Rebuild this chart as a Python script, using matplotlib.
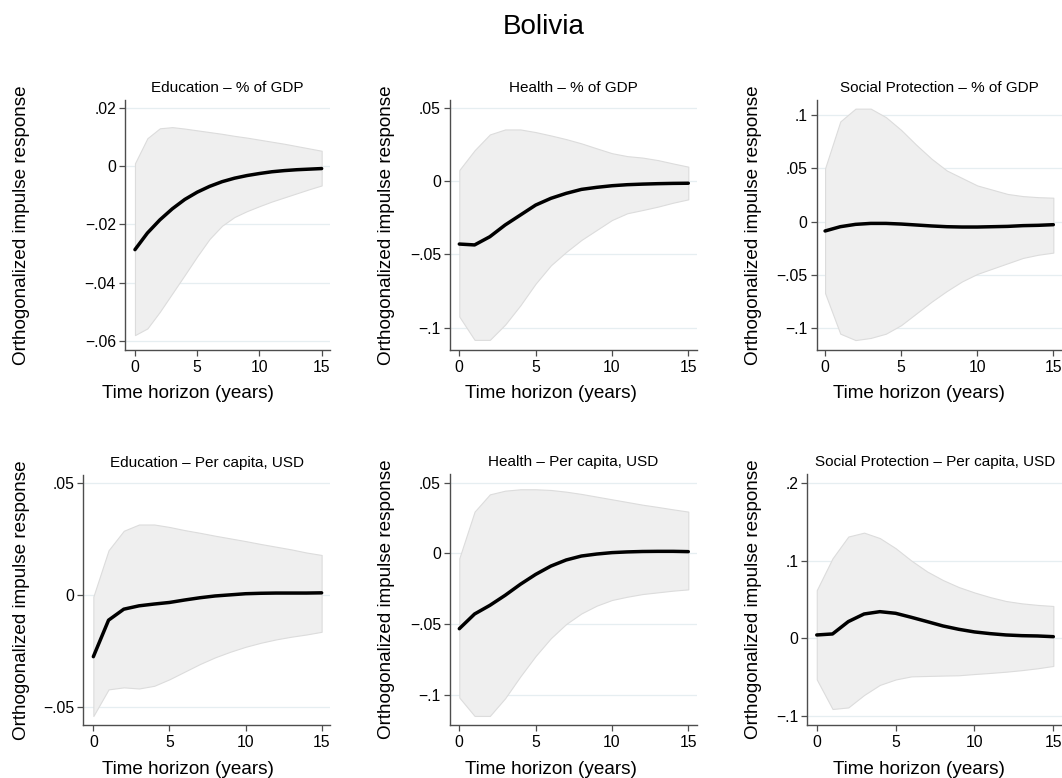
import matplotlib
matplotlib.use("Agg")
import matplotlib.pyplot as plt
import numpy as np

plt.rcParams['font.family'] = ['Liberation Sans', 'DejaVu Sans']

horizon = list(range(16))

titles = ["Education \u2013 % of GDP", "Health \u2013 % of GDP", "Social Protection \u2013 % of GDP",
          "Education \u2013 Per capita, USD", "Health \u2013 Per capita, USD",
          "Social Protection \u2013 Per capita, USD"]

# Panel 1: Education - % of GDP
edu_gdp_irf = [-0.0287, -0.0230, -0.0185, -0.0147, -0.0115, -0.0090, -0.0070, -0.0054,
               -0.0042, -0.0033, -0.0026, -0.0020, -0.0016, -0.0013, -0.0011, -0.0009]
edu_gdp_hi = [0.0009, 0.0095, 0.0129, 0.0133, 0.0128, 0.0122, 0.0116, 0.0110,
              0.0103, 0.0097, 0.0090, 0.0083, 0.0076, 0.0068, 0.0060, 0.0052]
edu_gdp_lo = [-0.0580, -0.0557, -0.0500, -0.0437, -0.0374, -0.0310, -0.0250, -0.0205,
              -0.0175, -0.0155, -0.0138, -0.0122, -0.0108, -0.0094, -0.0080, -0.0067]

# Panel 2: Health - % of GDP
hea_gdp_irf = [-0.0430, -0.0436, -0.0380, -0.0300, -0.0232, -0.0164, -0.0118, -0.0084,
               -0.0057, -0.0043, -0.0032, -0.0025, -0.0021, -0.0018, -0.0016, -0.0015]
hea_gdp_hi = [0.0075, 0.0210, 0.0318, 0.0352, 0.0352, 0.0334, 0.0311, 0.0286,
              0.0257, 0.0223, 0.0190, 0.0170, 0.0160, 0.0143, 0.0120, 0.0098]
hea_gdp_lo = [-0.0925, -0.1084, -0.1084, -0.0980, -0.0848, -0.0700, -0.0575, -0.0484,
              -0.0402, -0.0334, -0.0266, -0.0220, -0.0198, -0.0175, -0.0148, -0.0125]

# Panel 3: Social Protection - % of GDP
sp_gdp_irf = [-0.0087, -0.0047, -0.0025, -0.0016, -0.0016, -0.0022, -0.0031, -0.0040,
              -0.0047, -0.0050, -0.0050, -0.0047, -0.0044, -0.0037, -0.0034, -0.0028]
sp_gdp_hi = [0.050, 0.094, 0.106, 0.106, 0.098, 0.086, 0.072, 0.059,
             0.048, 0.041, 0.034, 0.030, 0.026, 0.024, 0.023, 0.0225]
sp_gdp_lo = [-0.067, -0.105, -0.111, -0.109, -0.105, -0.097, -0.086, -0.075,
             -0.065, -0.056, -0.049, -0.044, -0.039, -0.034, -0.031, -0.029]

# Panel 4: Education - Per capita, USD
edu_pc_irf = [-0.0275, -0.0112, -0.0063, -0.0048, -0.0040, -0.0033, -0.0022, -0.0012,
              -0.0004, 0.0001, 0.0006, 0.0008, 0.0009, 0.0009, 0.0009, 0.0010]
edu_pc_hi = [-0.0007, 0.0200, 0.0287, 0.0315, 0.0315, 0.0304, 0.0290, 0.0278,
             0.0265, 0.0253, 0.0241, 0.0228, 0.0216, 0.0204, 0.0190, 0.0179]
edu_pc_lo = [-0.0540, -0.0421, -0.0412, -0.0417, -0.0405, -0.0376, -0.0342, -0.0308,
             -0.0278, -0.0253, -0.0231, -0.0213, -0.0198, -0.0186, -0.0176, -0.0164]

# Panel 5: Health - Per capita, USD
hea_pc_irf = [-0.0533, -0.0429, -0.0368, -0.0297, -0.0219, -0.0149, -0.0090, -0.0047,
              -0.0019, -0.0005, 0.0005, 0.0010, 0.0013, 0.0014, 0.0014, 0.0012]
hea_pc_hi = [-0.0035, 0.0295, 0.0417, 0.0443, 0.0453, 0.0453, 0.0448, 0.0436,
             0.0420, 0.0401, 0.0382, 0.0363, 0.0344, 0.0328, 0.0311, 0.0295]
hea_pc_lo = [-0.1020, -0.1150, -0.1150, -0.1025, -0.0870, -0.0726, -0.0600, -0.0500,
             -0.0425, -0.0370, -0.0330, -0.0307, -0.0288, -0.0276, -0.0264, -0.0255]

# Panel 6: Social Protection - Per capita, USD
sp_pc_irf = [0.0043, 0.0056, 0.0215, 0.0313, 0.0343, 0.0322, 0.0270, 0.0215,
             0.0159, 0.0116, 0.0082, 0.0060, 0.0043, 0.0034, 0.0030, 0.0021]
sp_pc_hi = [0.062, 0.103, 0.131, 0.136, 0.129, 0.116, 0.100, 0.086,
            0.075, 0.066, 0.059, 0.053, 0.048, 0.045, 0.043, 0.0416]
sp_pc_lo = [-0.053, -0.091, -0.089, -0.073, -0.060, -0.053, -0.049, -0.0485,
            -0.048, -0.0476, -0.046, -0.0446, -0.043, -0.041, -0.0386, -0.0356]

yticks = [
    [0.02, 0.0, -0.02, -0.04, -0.06],
    [0.05, 0.0, -0.05, -0.1],
    [0.1, 0.05, 0.0, -0.05, -0.1],
    [0.05, 0.0, -0.05],
    [0.05, 0.0, -0.05, -0.1],
    [0.2, 0.1, 0.0, -0.1],
]
yticklabels = [
    [".02", "0", "\u2212.02", "\u2212.04", "\u2212.06"],
    [".05", "0", "\u2212.05", "\u2212.1"],
    [".1", ".05", "0", "\u2212.05", "\u2212.1"],
    [".05", "0", "\u2212.05"],
    [".05", "0", "\u2212.05", "\u2212.1"],
    [".2", ".1", "0", "\u2212.1"],
]
xticks = [0, 5, 10, 15]

irfs = [edu_gdp_irf, hea_gdp_irf, sp_gdp_irf, edu_pc_irf, hea_pc_irf, sp_pc_irf]
his = [edu_gdp_hi, hea_gdp_hi, sp_gdp_hi, edu_pc_hi, hea_pc_hi, sp_pc_hi]
los = [edu_gdp_lo, hea_gdp_lo, sp_gdp_lo, edu_pc_lo, hea_pc_lo, sp_pc_lo]

W, H = 1062, 778
fig = plt.figure(figsize=(W / 100, H / 100), dpi=100)

# layout in pixels: left, right, top, bottom
boxes = [
    (125, 330, 100, 350),
    (450, 697, 100, 350),
    (816.7, 1062, 100, 350),
    (83.3, 330, 475, 725),
    (450, 697, 474, 725),
    (807.3, 1062, 474, 725),
]
xlims = [(-0.80, 15.67), (-0.61, 15.57), (-0.55, 15.57),
         (-0.66, 15.55), (-0.61, 15.57), (-0.60, 15.55)]
ylims = [(-0.0631, 0.0226), (-0.1153, 0.0553), (-0.1203, 0.1141),
         (-0.058, 0.0536), (-0.1214, 0.0561), (-0.1116, 0.2115)]
ylab_x = [21.7, 387, 753, 21.7, 387, 753]
xlab_pos = [(188, 393), (551, 393), (919, 393), (188, 770), (551, 770), (919, 770)]

spine_col = "#4d4d4d"
for i in range(6):
    l, r, t, b = boxes[i]
    ax = fig.add_axes([l / W, 1 - b / H, (r - l) / W, (b - t) / H])
    ax.fill_between(horizon, los[i], his[i], facecolor="#efefef",
                    edgecolor="#dcdcdc", linewidth=0.8, zorder=2)
    ax.plot(horizon, irfs[i], color="black", linewidth=2.5, zorder=3,
            solid_capstyle="round")
    ax.set_xlim(*xlims[i])
    ax.set_ylim(*ylims[i])
    ax.set_xticks(xticks)
    ax.set_xticklabels([str(v) for v in xticks])
    ax.set_yticks(yticks[i])
    ax.set_yticklabels(yticklabels[i])
    ax.grid(axis="y", color="#e6eef1", linewidth=0.9, zorder=1)
    ax.set_axisbelow(True)
    for s in ["top", "right"]:
        ax.spines[s].set_visible(False)
    for s in ["left", "bottom"]:
        ax.spines[s].set_color(spine_col)
        ax.spines[s].set_linewidth(1.0)
    ax.tick_params(axis="both", direction="out", length=4.5, width=0.9,
                   color=spine_col, labelsize=11.3, pad=3, labelcolor="black")
    ax.tick_params(axis="y", pad=2)
    ax.set_title(titles[i], fontsize=11, pad=6)
    cy = (t + b) / 2
    fig.text(ylab_x[i] / W, 1 - cy / H, "Orthogonalized impulse response",
             rotation=90, ha="center", va="center", fontsize=13.6)
    fig.text(xlab_pos[i][0] / W, 1 - xlab_pos[i][1] / H, "Time horizon (years)",
             ha="center", va="center", fontsize=13.6)

fig.text(544 / W, 1 - 27 / H, "Bolivia", ha="center", va="center", fontsize=20)

fig.savefig("out.png", dpi=100, facecolor="white")
